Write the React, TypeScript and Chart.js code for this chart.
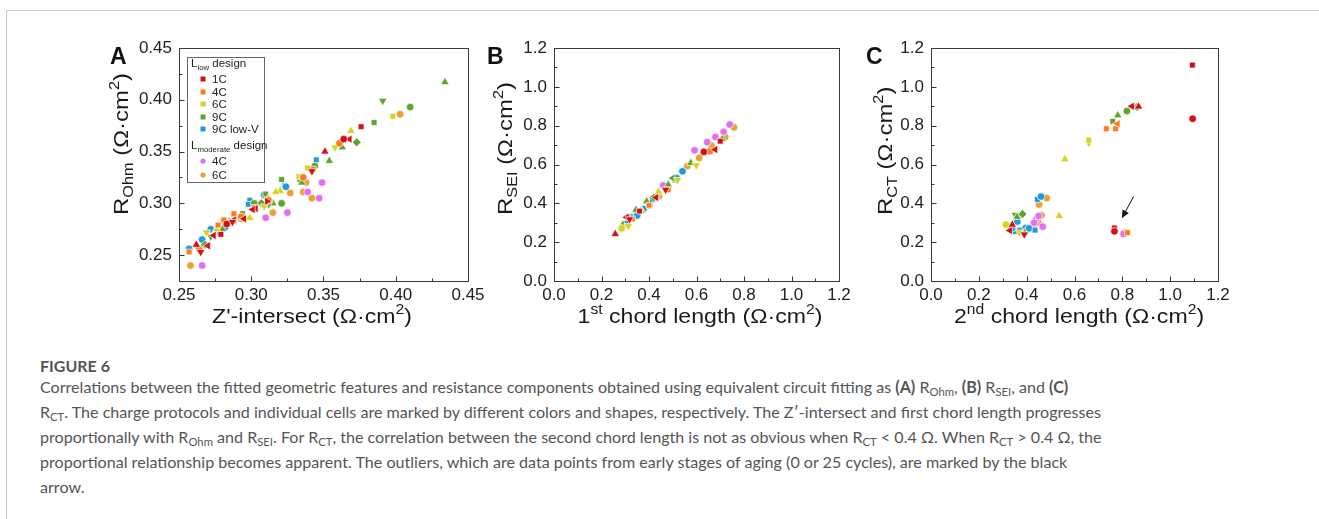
import React, { useEffect, useRef } from 'react';
import { Chart, registerables } from 'chart.js';

Chart.register(...registerables);

type Pt = [number, number, string];

// ---------- tick values ----------
const A_X_TICKS = [0.25, 0.3, 0.35, 0.4, 0.45];
const A_X_MINOR = [0.275, 0.325, 0.375, 0.425];
const A_Y_TICKS = [0.25, 0.3, 0.35, 0.4, 0.45];
const A_Y_MINOR = [0.275, 0.325, 0.375, 0.425];
const BC_TICKS = [0, 0.2, 0.4, 0.6, 0.8, 1.0, 1.2];
const BC_MINOR = [0.1, 0.3, 0.5, 0.7, 0.9, 1.1];

// ---------- groups ----------
const GROUP_LABELS = ['1C', '4C', '6C', '9C', '9C low-V', '4C', '6C'];
const GROUP_COLORS = ['#d40f12', '#ff7a1a', '#d3d41c', '#5ca52a', '#1f98de', '#e36ef0', '#e7a232'];

// ---------- panel A : Z'-intersect vs R_Ohm ----------
const A_1C: Pt[] = [[0.376,0.374,'s'],[0.368,0.362,'<'],[0.364,0.362,'c'],[0.351,0.35,'^'],[0.342,0.331,'v'],[0.311,0.302,'>'],[0.303,0.295,'<'],[0.301,0.294,'<'],[0.295,0.285,'<'],[0.288,0.284,'<'],[0.287,0.282,'v'],[0.283,0.28,'c'],[0.279,0.27,'s'],[0.274,0.269,'<'],[0.262,0.26,'^'],[0.27,0.259,'<'],[0.265,0.253,'v']];
const A_4C: Pt[] = [[0.361,0.358,'c'],[0.343,0.333,'s'],[0.336,0.325,'c'],[0.312,0.303,'c'],[0.302,0.296,'s'],[0.293,0.287,'c'],[0.288,0.29,'s'],[0.281,0.284,'s'],[0.277,0.279,'s'],[0.264,0.256,'c'],[0.257,0.253,'s']];
const A_6C: Pt[] = [[0.398,0.384,'s'],[0.369,0.37,'^'],[0.358,0.354,'v'],[0.339,0.334,'s'],[0.333,0.326,'s'],[0.335,0.326,'s'],[0.32,0.312,'^'],[0.317,0.311,'^'],[0.312,0.305,'^'],[0.309,0.297,'v'],[0.299,0.286,'^'],[0.286,0.284,'v'],[0.276,0.275,'^'],[0.269,0.272,'v']];
const A_9C: Pt[] = [[0.434,0.417,'^'],[0.391,0.399,'v'],[0.41,0.393,'c'],[0.385,0.378,'s'],[0.373,0.359,'d'],[0.363,0.354,'^'],[0.354,0.341,'^'],[0.344,0.336,'c'],[0.334,0.323,'c'],[0.321,0.323,'s'],[0.335,0.32,'^'],[0.32,0.312,'^'],[0.321,0.3,'c'],[0.315,0.3,'^'],[0.31,0.309,'s'],[0.312,0.299,'v'],[0.307,0.3,'d'],[0.302,0.3,'c'],[0.294,0.29,'s'],[0.28,0.275,'^'],[0.276,0.275,'^'],[0.272,0.268,'v'],[0.268,0.26,'d']];
const A_9CLV: Pt[] = [[0.345,0.342,'s'],[0.323,0.317,'s'],[0.324,0.316,'c'],[0.309,0.308,'c'],[0.299,0.303,'s'],[0.298,0.299,'s'],[0.288,0.288,'s'],[0.283,0.28,'c'],[0.282,0.277,'c'],[0.278,0.272,'s'],[0.272,0.275,'c'],[0.266,0.265,'c'],[0.257,0.256,'c']];
const A_M4C: Pt[] = [[0.349,0.32,'c'],[0.339,0.311,'c'],[0.347,0.305,'c'],[0.325,0.291,'c'],[0.31,0.286,'c'],[0.266,0.24,'c']];
const A_M6C: Pt[] = [[0.403,0.386,'c'],[0.338,0.32,'c'],[0.327,0.31,'c'],[0.336,0.311,'c'],[0.342,0.305,'c'],[0.315,0.291,'c'],[0.293,0.285,'c'],[0.258,0.24,'c']];

// ---------- panel B : 1st chord length vs R_SEI ----------
const B_1C: Pt[] = [[0.258,0.242,'^'],[0.306,0.328,'<'],[0.318,0.318,'v'],[0.36,0.36,'s'],[0.43,0.43,'<'],[0.47,0.47,'v'],[0.631,0.665,'c'],[0.679,0.677,'<'],[0.7,0.72,'s']];
const B_4C: Pt[] = [[0.33,0.32,'s'],[0.4,0.39,'s'],[0.481,0.47,'s'],[0.64,0.665,'s'],[0.656,0.668,'c']];
const B_6C: Pt[] = [[0.285,0.271,'c'],[0.313,0.283,'v'],[0.37,0.36,'^'],[0.44,0.46,'^'],[0.52,0.52,'v'],[0.599,0.596,'v']];
const B_9C: Pt[] = [[0.29,0.29,'^'],[0.345,0.366,'^'],[0.39,0.41,'^'],[0.42,0.43,'d'],[0.481,0.496,'^'],[0.5,0.53,'<'],[0.576,0.608,'^'],[0.708,0.732,'^']];
const B_9CLV: Pt[] = [[0.307,0.295,'c'],[0.329,0.328,'c'],[0.35,0.337,'c'],[0.377,0.371,'c'],[0.401,0.39,'c'],[0.414,0.418,'s'],[0.43,0.43,'c'],[0.51,0.52,'s'],[0.516,0.53,'c'],[0.541,0.565,'c']];
const B_M4C: Pt[] = [[0.46,0.492,'c'],[0.592,0.673,'c'],[0.645,0.715,'c'],[0.68,0.742,'c'],[0.714,0.768,'c'],[0.74,0.806,'c']];
const B_M6C: Pt[] = [[0.442,0.435,'c'],[0.561,0.591,'c'],[0.611,0.634,'c'],[0.663,0.698,'c'],[0.721,0.742,'c'],[0.758,0.791,'c']];

// ---------- panel C : 2nd chord length vs R_CT ----------
const C_1C: Pt[] = [[1.093,1.112,'s'],[1.094,0.836,'c'],[0.868,0.898,'^'],[0.84,0.9,'<'],[0.767,0.273,'s'],[0.767,0.256,'c'],[0.33,0.26,'<'],[0.34,0.29,'^'],[0.39,0.24,'v']];
const C_4C: Pt[] = [[0.733,0.784,'s'],[0.772,0.784,'s'],[0.78,0.81,'<'],[0.822,0.249,'s']];
const C_6C: Pt[] = [[0.66,0.711,'v'],[0.66,0.726,'s'],[0.56,0.627,'^'],[0.536,0.335,'^'],[0.313,0.29,'c'],[0.37,0.25,'v']];
const C_9C: Pt[] = [[0.861,0.896,'d'],[0.819,0.875,'c'],[0.781,0.853,'^'],[0.76,0.822,'s'],[0.382,0.345,'d'],[0.353,0.34,'v'],[0.36,0.33,'^'],[0.39,0.25,'^']];
const C_9CLV: Pt[] = [[0.445,0.42,'s'],[0.46,0.435,'c'],[0.35,0.255,'s'],[0.4,0.26,'s'],[0.361,0.306,'c'],[0.338,0.271,'c'],[0.372,0.262,'s'],[0.396,0.273,'c'],[0.41,0.271,'c'],[0.435,0.262,'s']];
const C_M4C: Pt[] = [[0.44,0.318,'c'],[0.431,0.3,'c'],[0.467,0.28,'c'],[0.45,0.335,'c'],[0.805,0.242,'c']];
const C_M6C: Pt[] = [[0.484,0.427,'c'],[0.452,0.394,'c'],[0.462,0.338,'c'],[0.449,0.301,'c'],[0.428,0.28,'c'],[0.809,0.25,'c']];
const C_ARROW_FROM = [0.847, 0.435];
const C_ARROW_TO = [0.798, 0.323];

// ---------- drawing helpers ----------
const FONT = '"Liberation Sans", Arial, sans-serif';
type Seg = [string, string];

const STYLE: Record<string, string> = { s: 'rect', c: 'circle', '^': 'triangle', v: 'triangle', '<': 'triangle', '>': 'triangle', d: 'rectRot' };
const ROT: Record<string, number> = { s: 0, c: 0, '^': 0, v: 180, '<': 270, '>': 90, d: 0 };
const RAD: Record<string, number> = { s: 4.1, c: 3.8, '^': 4.9, v: 4.9, '<': 4.9, '>': 4.9, d: 4.5 };

function richWidth(ctx: CanvasRenderingContext2D, segs: Seg[], size: number) {
  let w = 0;
  for (const [t, k] of segs) {
    ctx.font = `${k ? size * 0.68 : size}px ${FONT}`;
    w += ctx.measureText(t).width;
  }
  return w;
}

function drawRich(ctx: CanvasRenderingContext2D, segs: Seg[], x: number, y: number, size: number, align: string, stretch = 1, color = '#1a1a1a') {
  ctx.save();
  ctx.translate(x, y);
  ctx.scale(stretch, 1);
  const w = richWidth(ctx, segs, size);
  let cx = align === 'center' ? -w / 2 : 0;
  ctx.textBaseline = 'alphabetic';
  ctx.textAlign = 'left';
  ctx.fillStyle = color;
  for (const [t, k] of segs) {
    const s = k ? size * 0.68 : size;
    ctx.font = `${s}px ${FONT}`;
    const dy = k === 'sub' ? size * 0.22 : k === 'sup' ? -size * 0.42 : 0;
    ctx.fillText(t, cx, dy);
    cx += ctx.measureText(t).width;
  }
  ctx.restore();
}

const CANVAS_TOP = 20;
const CANVAS_H = 330;
const AREA_TOP = 28; // plot top at page y 48
const AREA_BOTTOM = 261; // plot bottom at page y 281
const Y_AXIS_W = 80;
const RIGHT_PAD = 25;

interface PanelCfg {
  canvasLeft: number;
  plotW: number;
  xMin: number; xMax: number; yMin: number; yMax: number;
  xTicks: number[]; xMinor: number[]; yTicks: number[]; yMinor: number[];
  decimals: number;
  groups: Pt[][];
  letter: string; letterX: number;
  xTitle: Seg[]; xTitleX: number;
  yTitle: Seg[]; yTitleX: number;
  legend?: boolean;
  arrow?: boolean;
}

const PANELS: PanelCfg[] = [
  {
    canvasLeft: 99, plotW: 289,
    xMin: 0.25, xMax: 0.45, yMin: 0.225, yMax: 0.45,
    xTicks: A_X_TICKS, xMinor: A_X_MINOR, yTicks: A_Y_TICKS, yMinor: A_Y_MINOR,
    decimals: 2,
    groups: [A_1C, A_4C, A_6C, A_9C, A_9CLV, A_M4C, A_M6C],
    letter: 'A', letterX: 110,
    xTitle: [["Z'-intersect (Ω·cm", ''], ['2', 'sup'], [')', '']], xTitleX: 312,
    yTitle: [['R', ''], ['Ohm', 'sub'], [' (Ω·cm', ''], ['2', 'sup'], [')', '']], yTitleX: 128,
    legend: true,
  },
  {
    canvasLeft: 474, plotW: 285,
    xMin: 0, xMax: 1.2, yMin: 0, yMax: 1.2,
    xTicks: BC_TICKS, xMinor: BC_MINOR, yTicks: BC_TICKS, yMinor: BC_MINOR,
    decimals: 1,
    groups: [B_1C, B_4C, B_6C, B_9C, B_9CLV, B_M4C, B_M6C],
    letter: 'B', letterX: 487,
    xTitle: [['1', ''], ['st', 'sup'], [' chord length (Ω·cm', ''], ['2', 'sup'], [')', '']], xTitleX: 700,
    yTitle: [['R', ''], ['SEI', 'sub'], [' (Ω·cm', ''], ['2', 'sup'], [')', '']], yTitleX: 512,
  },
  {
    canvasLeft: 851, plotW: 287,
    xMin: 0, xMax: 1.2, yMin: 0, yMax: 1.2,
    xTicks: BC_TICKS, xMinor: BC_MINOR, yTicks: BC_TICKS, yMinor: BC_MINOR,
    decimals: 1,
    groups: [C_1C, C_4C, C_6C, C_9C, C_9CLV, C_M4C, C_M6C],
    letter: 'C', letterX: 866,
    xTitle: [['2', ''], ['nd', 'sup'], [' chord length (Ω·cm', ''], ['2', 'sup'], [')', '']], xTitleX: 1079,
    yTitle: [['R', ''], ['CT', 'sub'], [' (Ω·cm', ''], ['2', 'sup'], [')', '']], yTitleX: 892,
    arrow: true,
  },
];

function makePlugin(cfg: PanelCfg) {
  return {
    id: 'panelDecor',
    afterDraw(chart: any) {
      const ctx: CanvasRenderingContext2D = chart.ctx;
      const ca = chart.chartArea;
      const xs = chart.scales.x;
      const ys = chart.scales.y;
      const cx = (px: number) => px - cfg.canvasLeft;
      const cy = (py: number) => py - CANVAS_TOP;
      ctx.save();
      // ticks (inward)
      ctx.strokeStyle = '#333';
      ctx.lineWidth = 1;
      ctx.beginPath();
      const b = Math.round(ca.bottom) + 0.5;
      const l = Math.round(ca.left) + 0.5;
      for (const v of cfg.xTicks) { const p = Math.round(xs.getPixelForValue(v)) + 0.5; ctx.moveTo(p, b); ctx.lineTo(p, b - 5); }
      for (const v of cfg.xMinor) { const p = Math.round(xs.getPixelForValue(v)) + 0.5; ctx.moveTo(p, b); ctx.lineTo(p, b - 3); }
      for (const v of cfg.yTicks) { const p = Math.round(ys.getPixelForValue(v)) + 0.5; ctx.moveTo(l, p); ctx.lineTo(l + 5, p); }
      for (const v of cfg.yMinor) { const p = Math.round(ys.getPixelForValue(v)) + 0.5; ctx.moveTo(l, p); ctx.lineTo(l + 3, p); }
      ctx.stroke();
      // frame
      ctx.strokeStyle = '#3a3a3a';
      ctx.strokeRect(l, Math.round(ca.top) + 0.5, Math.round(ca.right) - Math.round(ca.left), Math.round(ca.bottom) - Math.round(ca.top));
      // panel letter
      ctx.fillStyle = '#111';
      ctx.font = `bold 23px ${FONT}`;
      ctx.textAlign = 'left';
      ctx.textBaseline = 'alphabetic';
      ctx.fillText(cfg.letter, cx(cfg.letterX), cy(64));
      // axis titles
      drawRich(ctx, cfg.xTitle, cx(cfg.xTitleX), cy(323), 21, 'center', 1.1);
      ctx.save();
      ctx.translate(cx(cfg.yTitleX), cy(215));
      ctx.rotate(-Math.PI / 2);
      drawRich(ctx, cfg.yTitle, 0, 0, 21, 'left', 1.14);
      ctx.restore();
      // legend
      if (cfg.legend) {
        ctx.strokeStyle = '#666';
        ctx.lineWidth = 1;
        ctx.strokeRect(cx(187) + 0.5, cy(57) + 0.5, 77, 125);
        drawRich(ctx, [['L', ''], ['low', 'sub'], [' design', '']], cx(191), cy(67), 11.5, 'left', 1, '#222');
        const rowsY = [79, 92, 104, 117, 129];
        for (let i = 0; i < 5; i++) {
          ctx.fillStyle = GROUP_COLORS[i];
          ctx.fillRect(cx(203) - 2.5, cy(rowsY[i]) - 2.5, 5, 5);
          drawRich(ctx, [[GROUP_LABELS[i], '']], cx(212), cy(rowsY[i] + 4), 11.5, 'left', 1, '#222');
        }
        drawRich(ctx, [['L', ''], ['moderate', 'sub'], [' design', '']], cx(191), cy(149), 11.5, 'left', 1, '#222');
        const rows2 = [161, 175];
        for (let i = 0; i < 2; i++) {
          ctx.fillStyle = GROUP_COLORS[5 + i];
          ctx.beginPath();
          ctx.arc(cx(203), cy(rows2[i]), 2.6, 0, Math.PI * 2);
          ctx.fill();
          drawRich(ctx, [[GROUP_LABELS[5 + i], '']], cx(212), cy(rows2[i] + 4), 11.5, 'left', 1, '#222');
        }
      }
      // arrow
      if (cfg.arrow) {
        const x1 = xs.getPixelForValue(C_ARROW_FROM[0]);
        const y1 = ys.getPixelForValue(C_ARROW_FROM[1]);
        const x2 = xs.getPixelForValue(C_ARROW_TO[0]);
        const y2 = ys.getPixelForValue(C_ARROW_TO[1]);
        const ang = Math.atan2(y2 - y1, x2 - x1);
        const hl = 8, hw = 3.5;
        const bx = x2 - hl * Math.cos(ang), by = y2 - hl * Math.sin(ang);
        ctx.strokeStyle = '#111';
        ctx.lineWidth = 1;
        ctx.beginPath();
        ctx.moveTo(x1, y1);
        ctx.lineTo(bx, by);
        ctx.stroke();
        ctx.fillStyle = '#111';
        ctx.beginPath();
        ctx.moveTo(x2, y2);
        ctx.lineTo(bx + hw * Math.sin(ang), by - hw * Math.cos(ang));
        ctx.lineTo(bx - hw * Math.sin(ang), by + hw * Math.cos(ang));
        ctx.closePath();
        ctx.fill();
      }
      ctx.restore();
    },
  };
}

function Panel({ cfg }: { cfg: PanelCfg }) {
  const ref = useRef<HTMLCanvasElement>(null);
  const width = Y_AXIS_W + cfg.plotW + RIGHT_PAD;
  useEffect(() => {
    if (!ref.current) return;
    const fmt = (v: number) => Number(v).toFixed(cfg.decimals);
    const datasets = cfg.groups.map((pts, i) => ({
      label: GROUP_LABELS[i],
      data: pts.map((p) => ({ x: p[0], y: p[1], s: p[2] })),
      backgroundColor: GROUP_COLORS[i],
      borderColor: '#ffffff',
      borderWidth: 0.7,
      pointStyle: (c: any) => STYLE[c.raw ? c.raw.s : 'c'] || 'circle',
      rotation: (c: any) => ROT[c.raw ? c.raw.s : 'c'] || 0,
      pointRadius: (c: any) => RAD[c.raw ? c.raw.s : 'c'] || 3.8,
    }));
    const tickFont = { family: FONT, size: 17 };
    const chart = new Chart(ref.current, {
      type: 'scatter',
      data: { datasets },
      options: {
        animation: false,
        responsive: false,
        maintainAspectRatio: false,
        events: [],
        layout: { padding: { top: AREA_TOP, right: RIGHT_PAD, left: 0, bottom: 0 } },
        plugins: { legend: { display: false }, tooltip: { enabled: false }, title: { display: false } },
        scales: {
          x: {
            type: 'linear', min: cfg.xMin, max: cfg.xMax,
            grid: { display: false, drawTicks: false },
            border: { display: false },
            afterBuildTicks: (s: any) => { s.ticks = cfg.xTicks.map((v) => ({ value: v })); },
            afterFit: (s: any) => { s.height = CANVAS_H - AREA_BOTTOM; },
            ticks: { font: tickFont, color: '#222', padding: 4, maxRotation: 0, autoSkip: false, callback: (v: any) => fmt(v) },
          },
          y: {
            type: 'linear', min: cfg.yMin, max: cfg.yMax,
            grid: { display: false, drawTicks: false },
            border: { display: false },
            afterBuildTicks: (s: any) => { s.ticks = cfg.yTicks.map((v) => ({ value: v })); },
            afterFit: (s: any) => { s.width = Y_AXIS_W; },
            ticks: { font: tickFont, color: '#222', padding: 7, autoSkip: false, callback: (v: any) => fmt(v) },
          },
        },
      } as any,
      plugins: [makePlugin(cfg)],
    });
    return () => chart.destroy();
  }, [cfg]);
  return (
    <canvas
      ref={ref}
      width={width}
      height={CANVAS_H}
      style={{ position: 'absolute', left: cfg.canvasLeft, top: CANVAS_TOP, width, height: CANVAS_H }}
    />
  );
}

const subStyle: React.CSSProperties = { fontSize: '0.7em', verticalAlign: '-0.3em', lineHeight: 0 };
const R = (s: string) => (
  <>R<sub style={subStyle}>{s}</sub></>
);

export default function App() {
  return (
    <div style={{ position: 'absolute', left: 0, top: 0, width: 1319, height: 519, overflow: 'hidden', background: '#fff' }}>
      <div style={{ position: 'absolute', left: 6, top: 10, width: 1400, height: 600, borderLeft: '1px solid #c8c8c8', borderTop: '1px solid #c8c8c8' }} />
      {PANELS.map((p, i) => (
        <Panel key={i} cfg={p} />
      ))}
      <div style={{ position: 'absolute', left: 40, top: 356, fontFamily: 'Lato, "Open Sans", sans-serif', fontWeight: 700, fontSize: 16, lineHeight: '20px', color: '#555', whiteSpace: 'nowrap' }}>
        FIGURE 6
      </div>
      <div style={{ position: 'absolute', left: 40, top: 374, fontFamily: 'Lato, "Open Sans", sans-serif', fontSize: 16.1, lineHeight: '25px', color: '#555', whiteSpace: 'nowrap' }}>
        <div>
          Correlations between the fitted geometric features and resistance components obtained using equivalent circuit fitting as <b>(A)</b> {R('Ohm')}, <b>(B)</b> {R('SEI')}, and <b>(C)</b>
        </div>
        <div>
          {R('CT')}. The charge protocols and individual cells are marked by different colors and shapes, respectively. The Z′-intersect and first chord length progresses
        </div>
        <div>
          proportionally with {R('Ohm')} and {R('SEI')}. For {R('CT')}, the correlation between the second chord length is not as obvious when {R('CT')} &lt; 0.4 Ω. When {R('CT')} &gt; 0.4 Ω, the
        </div>
        <div>
          proportional relationship becomes apparent. The outliers, which are data points from early stages of aging (0 or 25 cycles), are marked by the black
        </div>
        <div>arrow.</div>
      </div>
    </div>
  );
}
